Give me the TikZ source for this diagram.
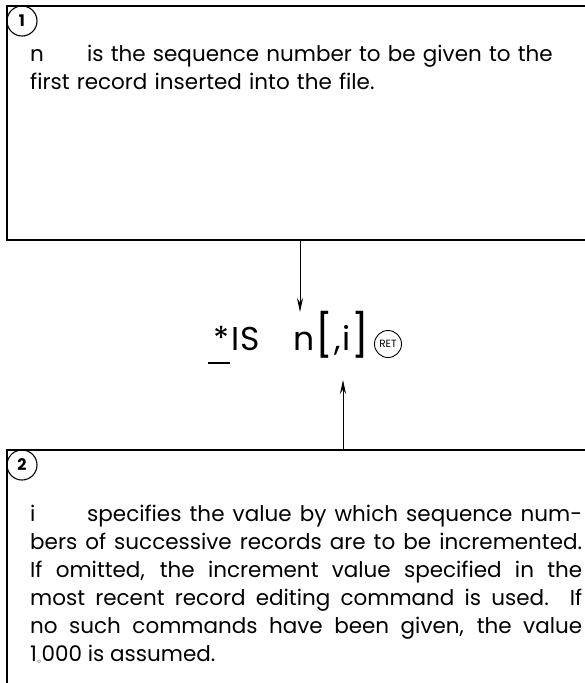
\documentclass[tikz,border=0pt]{standalone}
\usepackage{fontspec}
\setmainfont{Poppins}
\usetikzlibrary{arrows.meta,positioning}

\begin{document}
\begin{tikzpicture}[x=1pt,y=-1pt,
  frame/.style={line width=1.8pt},
  numcirc/.style={circle,draw,line width=1.1pt,minimum size=30pt,inner sep=0pt,font=\fontsize{16}{16}\selectfont\bfseries},
  para/.style={anchor=north west,inner sep=0pt,font=\fontsize{21.5}{28}\selectfont},
  cmdfont/.style={anchor=base west,inner sep=0pt,font=\fontsize{33}{33}\selectfont},
  pointer/.style={-{Stealth[length=14pt,width=6pt]},line width=0.9pt}]
\useasboundingbox (0,0) rectangle (585,683);
% upper box
\draw[frame] (600,6) -- (7,6) -- (7,240) -- (600,240);
\node[numcirc] (one) at (22,21) {1};
\node[para,text width=560pt,align=left] (ntext) at (30,45)
  {\makebox[57pt][l]{n}is the sequence number to be given to the\\
   first record inserted into the file.};
% lower box
\draw[frame] (600,450) -- (7,450) -- (7,690);
\node[numcirc] (two) at (22,465) {2};
\node[para,text width=552pt,align=justify] (itext) at (30,505)
  {\makebox[57pt][l]{i}specifies the value by which sequence num-\linebreak
   bers of successive records are to be incremented.\linebreak
   If omitted, the increment value specified in the\linebreak
   most recent record editing command is used. If\linebreak
   no such commands have been given, the value\linebreak
   1{\fontsize{10}{10}\selectfont$_\circ$}000 is assumed.\par};
% command line
\node[cmdfont] (isword) at (213,350) {*\hspace{2pt}I\hspace{1pt}S};
\node[cmdfont] (arg) at (293,350)
  {n\hspace{1pt}{\fontsize{42}{42}\selectfont[}\hspace{1pt},\hspace{2pt}i\hspace{1pt}{\fontsize{42}{42}\selectfont]}};
\node[circle,draw,line width=0.9pt,minimum size=27pt,inner sep=0pt,font=\fontsize{10.5}{10.5}\selectfont] (ret) at (388,344) {RET};
\draw[line width=2.2pt] (isword.base west) ++(-5,13) coordinate (ul) -- ++(22,0);
% pointers
\coordinate (upper) at (300,240);
\coordinate (lower) at (343,450);
\draw[pointer] (upper) -- (300,312);
\draw[pointer] (lower) -- (343,380);
\end{tikzpicture}
\end{document}
